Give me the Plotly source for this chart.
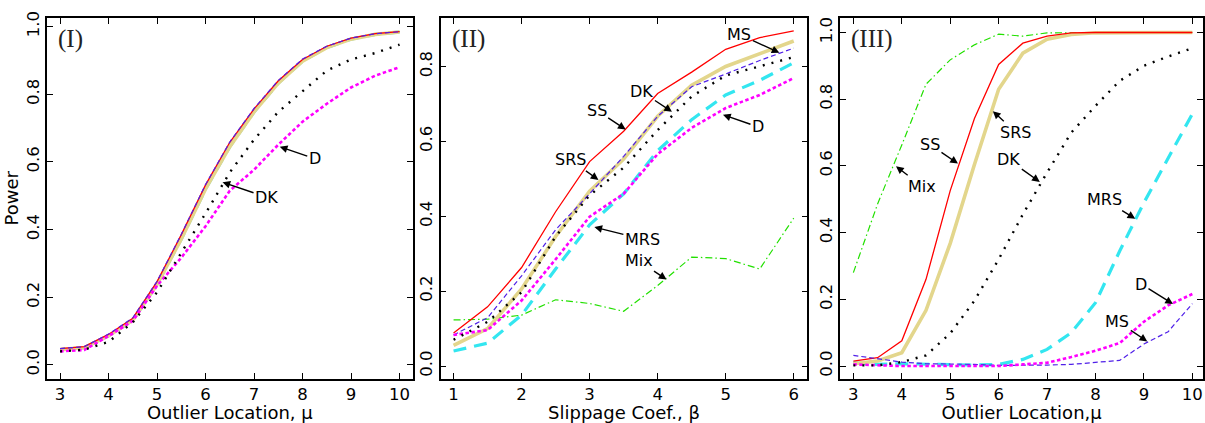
import plotly.graph_objects as go

# ---------------- data ----------------
mu = [3, 3.5, 4, 4.5, 5, 5.5, 6, 6.5, 7, 7.5, 8, 8.5, 9, 9.5, 10]
beta = [1, 1.5, 2, 2.5, 3, 3.5, 4, 4.5, 5, 5.5, 6]

# Panel I (outlier location)
p1_SS = [0.048, 0.054, 0.090, 0.138, 0.246, 0.385, 0.532, 0.658, 0.757, 0.840, 0.903, 0.942, 0.966, 0.979, 0.985]
p1_MS = [0.048, 0.054, 0.091, 0.139, 0.247, 0.386, 0.533, 0.659, 0.758, 0.841, 0.904, 0.942, 0.966, 0.979, 0.985]
p1_SRS = [0.045, 0.051, 0.086, 0.132, 0.238, 0.372, 0.520, 0.645, 0.748, 0.833, 0.898, 0.938, 0.963, 0.977, 0.984]
p1_MRS = [0.045, 0.051, 0.086, 0.132, 0.238, 0.372, 0.520, 0.645, 0.748, 0.833, 0.898, 0.938, 0.963, 0.977, 0.984]
p1_Mix = [0.046, 0.052, 0.087, 0.133, 0.240, 0.374, 0.522, 0.647, 0.750, 0.835, 0.899, 0.939, 0.964, 0.978, 0.985]
p1_DK = [0.040, 0.045, 0.068, 0.126, 0.215, 0.331, 0.448, 0.569, 0.666, 0.748, 0.808, 0.870, 0.903, 0.922, 0.947]
p1_D = [0.040, 0.044, 0.085, 0.130, 0.234, 0.317, 0.410, 0.515, 0.577, 0.651, 0.719, 0.772, 0.820, 0.855, 0.880]

# Panel II (slippage coefficient)
p2_SS = [0.088, 0.158, 0.263, 0.412, 0.546, 0.627, 0.728, 0.785, 0.846, 0.877, 0.895]
p2_SRS = [0.055, 0.100, 0.206, 0.346, 0.467, 0.553, 0.667, 0.750, 0.800, 0.835, 0.868]
p2_MS = [0.083, 0.129, 0.241, 0.364, 0.460, 0.560, 0.667, 0.746, 0.780, 0.816, 0.849]
p2_DK = [0.070, 0.118, 0.197, 0.346, 0.456, 0.530, 0.630, 0.720, 0.776, 0.800, 0.825]
p2_D = [0.083, 0.096, 0.175, 0.285, 0.399, 0.460, 0.566, 0.636, 0.689, 0.724, 0.769]
p2_MRS = [0.040, 0.061, 0.136, 0.259, 0.377, 0.460, 0.575, 0.658, 0.724, 0.763, 0.810]
p2_Mix = [0.123, 0.125, 0.136, 0.177, 0.167, 0.146, 0.215, 0.291, 0.287, 0.259, 0.395]

# Panel III (outlier location)
p3_SS = [0.015, 0.025, 0.076, 0.260, 0.526, 0.742, 0.904, 0.968, 0.989, 0.999, 1.0, 1.0, 1.0, 1.0, 1.0]
p3_SRS = [0.007, 0.015, 0.040, 0.167, 0.368, 0.604, 0.830, 0.938, 0.980, 0.994, 0.999, 1.0, 1.0, 1.0, 1.0]
p3_Mix = [0.280, 0.486, 0.663, 0.845, 0.918, 0.963, 0.995, 0.989, 0.999, 1.0, 1.0, 1.0, 1.0, 1.0, 1.0]
p3_DK = [0.002, 0.002, 0.012, 0.032, 0.098, 0.196, 0.320, 0.455, 0.580, 0.700, 0.780, 0.855, 0.900, 0.928, 0.953]
p3_MRS = [0.010, 0.005, 0.007, 0.005, 0.005, 0.003, 0.005, 0.020, 0.050, 0.100, 0.190, 0.345, 0.490, 0.625, 0.756]
p3_D = [0.005, 0.002, 0.0, 0.0, 0.0, 0.0, 0.0, 0.005, 0.010, 0.027, 0.046, 0.069, 0.133, 0.182, 0.216]
p3_MS = [0.032, 0.023, 0.012, 0.007, 0.007, 0.005, 0.002, 0.002, 0.003, 0.005, 0.010, 0.017, 0.066, 0.103, 0.187]

panel_labels = ["(I)", "(II)", "(III)"]
x_titles = ["Outlier Location, \u03bc", "Slippage Coef., \u03b2", "Outlier Location,\u03bc"]
y_title = "Power"

# ---------------- styles ----------------
STY = {
    "MRS": dict(color="#33e6f0", width=3.2, dash="13px,8px"),
    "Mix": dict(color="#22e000", width=1.2, dash="7px,3px,1.5px,3px"),
    "SRS": dict(color="#e3d68c", width=3.6, dash="solid"),
    "SS": dict(color="#ff0000", width=1.3, dash="solid"),
    "MS": dict(color="#5020e8", width=1.2, dash="5px,3px"),
    "D": dict(color="#ff00ff", width=2.6, dash="3.5px,2.5px"),
    "DK": dict(color="#000000", width=2.4, dash="2px,7px"),
}
ORDER = ["MRS", "Mix", "SRS", "SS", "MS", "D", "DK"]

panels = [
    (mu, dict(SS=p1_SS, MS=p1_MS, SRS=p1_SRS, MRS=p1_MRS, Mix=p1_Mix, DK=p1_DK, D=p1_D)),
    (beta, dict(SS=p2_SS, MS=p2_MS, SRS=p2_SRS, MRS=p2_MRS, Mix=p2_Mix, DK=p2_DK, D=p2_D)),
    (mu, dict(SS=p3_SS, MS=p3_MS, SRS=p3_SRS, MRS=p3_MRS, Mix=p3_Mix, DK=p3_DK, D=p3_D)),
]

fig = go.Figure()
for i, (xs, series) in enumerate(panels):
    sfx = "" if i == 0 else str(i + 1)
    for name in ORDER:
        s = STY[name]
        fig.add_trace(go.Scatter(
            x=xs, y=series[name], mode="lines", name=name, showlegend=False,
            line=dict(color=s["color"], width=s["width"], dash=s["dash"]),
            xaxis="x" + sfx, yaxis="y" + sfx, hoverinfo="skip"))

W, H = 1205, 423
xdom = [(47 / W, 413 / W), (441 / W, 808 / W), (841 / W, 1204 / W)]
ydom = (1 - 378 / H, 1 - 11 / H)
xranges = [(2.73, 10.27), (0.81, 6.2), (2.73, 10.22)]
yranges = [(-0.041, 1.026), (-0.034, 0.93), (-0.038, 1.044)]
xticks = [[3, 4, 5, 6, 7, 8, 9, 10], [1, 2, 3, 4, 5, 6], [3, 4, 5, 6, 7, 8, 9, 10]]
yticks = [[0, 0.2, 0.4, 0.6, 0.8, 1.0], [0, 0.2, 0.4, 0.6, 0.8], [0, 0.2, 0.4, 0.6, 0.8, 1.0]]

TICKFONT = dict(family="DejaVu Sans", size=16.5, color="black")
TITLEFONT = dict(family="DejaVu Sans", size=18, color="black")

layout = dict(
    width=W, height=H, margin=dict(l=0, r=0, t=0, b=0),
    paper_bgcolor="white", plot_bgcolor="white", showlegend=False,
)
for i in range(3):
    sfx = "" if i == 0 else str(i + 1)
    common = dict(showline=True, linecolor="black", linewidth=1.6, mirror="ticks",
                  ticks="inside", ticklen=6, tickwidth=1.3, tickcolor="black",
                  showgrid=False, zeroline=False, tickfont=TICKFONT)
    layout["xaxis" + sfx] = dict(
        domain=list(xdom[i]), range=list(xranges[i]), anchor="y" + sfx,
        tickvals=xticks[i], ticktext=[str(v) for v in xticks[i]],
        title=dict(text=x_titles[i], font=TITLEFONT, standoff=2), **common)
    ya = dict(
        domain=list(ydom), range=list(yranges[i]), anchor="x" + sfx,
        tickvals=yticks[i], ticktext=["%.1f" % v for v in yticks[i]],
        tickangle=-90, **common)
    if i == 0:
        ya["title"] = dict(text=y_title, font=TITLEFONT, standoff=0)
    layout["yaxis" + sfx] = ya
fig.update_layout(**layout)

# panel labels
for i, lab in enumerate(panel_labels):
    sfx = "" if i == 0 else str(i + 1)
    fig.add_annotation(
        text=lab, xref="x" + sfx + " domain", yref="y" + sfx + " domain",
        x=0.025, y=0.985, xanchor="left", yanchor="top", showarrow=False,
        font=dict(family="Liberation Serif", size=25, color="#222222"))

# arrow annotations: (panel, label, x, y, ax, ay)
arrows = [
    (0, "D", 7.53, 0.645, 35, 12),
    (0, "DK", 6.35, 0.54, 44, 15),
    (1, "MS", 5.79, 0.837, -40, -18),
    (1, "DK", 4.21, 0.679, -30, -20),
    (1, "SS", 3.53, 0.632, -29, -19),
    (1, "SRS", 3.13, 0.497, -28, -20),
    (1, "D", 4.96, 0.671, 35, 12),
    (1, "MRS", 3.07, 0.371, 48, 12),
    (1, "Mix", 4.13, 0.231, -28, -19),
    (2, "Mix", 3.88, 0.599, 26, 20),
    (2, "SS", 5.16, 0.607, -28, -19),
    (2, "SRS", 5.88, 0.764, 23, 21),
    (2, "DK", 6.85, 0.552, -31, -22),
    (2, "MRS", 8.82, 0.442, -31, -19),
    (2, "D", 9.60, 0.186, -32, -20),
    (2, "MS", 9.07, 0.074, -30, -20),
]
for p, lab, x, y, ax, ay in arrows:
    sfx = "" if p == 0 else str(p + 1)
    fig.add_annotation(
        text=lab, x=x, y=y, xref="x" + sfx, yref="y" + sfx, ax=ax, ay=ay,
        showarrow=True, arrowhead=2, arrowsize=1.1, arrowwidth=1.4,
        arrowcolor="black", standoff=0,
        font=dict(family="DejaVu Sans", size=16, color="black"))

fig.write_html("out.html")
